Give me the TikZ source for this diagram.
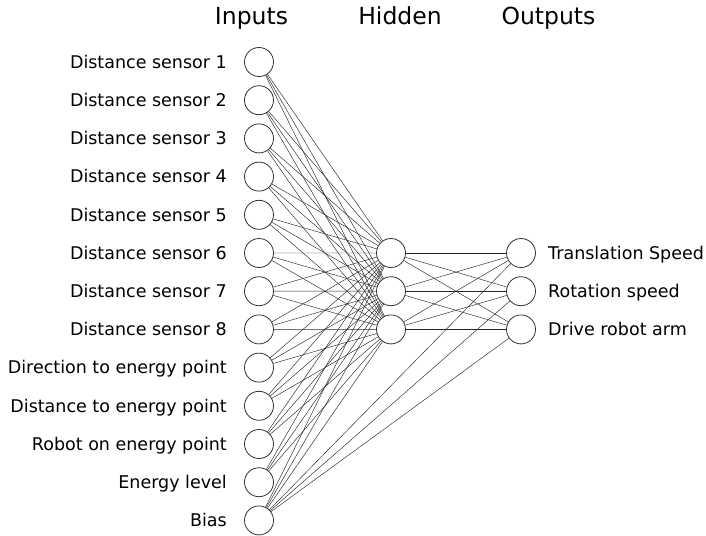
\documentclass[tikz,border=0pt]{standalone}
\usepackage{fontspec}
\setmainfont{DejaVu Sans}
\begin{document}
\begin{tikzpicture}[x=1pt,y=-1pt,
  neuron/.style={circle,draw=black!80,line width=0.8pt,fill=white,minimum size=29pt,inner sep=0pt},
  lbl/.style={font=\fontsize{17.5}{20}\selectfont,inner sep=0pt},
  hdr/.style={font=\fontsize{23.5}{27}\selectfont,inner sep=0pt,anchor=base},
  conn/.style={draw=black!85,line width=0.45pt}]
\useasboundingbox (0,0) rectangle (706,535);
% headers
\node[hdr] (hin) at (251.5,25) {Inputs};
\node[hdr] (hhid) at (400,25) {Hidden};
\node[hdr] (hout) at (548.5,25) {Outputs};
% input nodes
\foreach \i/\t in {1/Distance sensor 1,2/Distance sensor 2,3/Distance sensor 3,4/Distance sensor 4,5/Distance sensor 5,6/Distance sensor 6,7/Distance sensor 7,8/Distance sensor 8,9/Direction to energy point,10/Distance to energy point,11/Robot on energy point,12/Energy level,13/Bias}{
  \pgfmathsetmacro{\yy}{62+(\i-1)*38.2}
  \node[neuron] (i\i) at (259,\yy) {};
  \node[lbl,anchor=base east] (li\i) at (227,\yy+6.3) {\t};
}
% hidden and output nodes
\foreach \j/\t in {1/Translation Speed,2/Rotation speed,3/Drive robot arm}{
  \pgfmathsetmacro{\yy}{253+(\j-1)*38.2}
  \node[neuron] (h\j) at (391,\yy) {};
  \node[neuron] (o\j) at (521,\yy) {};
  \node[lbl,anchor=base west] (lo\j) at (548,\yy+6.3) {\t};
}
% connections
\begin{scope}[on background layer/.style={}]
\foreach \i in {1,...,13}{\foreach \j in {1,2,3}{\draw[conn] (i\i) -- (h\j);}}
\foreach \a in {1,2,3}{\foreach \b in {1,2,3}{\draw[conn] (h\a) -- (o\b);}}
\foreach \b in {1,2,3}{\draw[conn] (i13) -- (o\b);}
\end{scope}
\end{tikzpicture}
\end{document}
